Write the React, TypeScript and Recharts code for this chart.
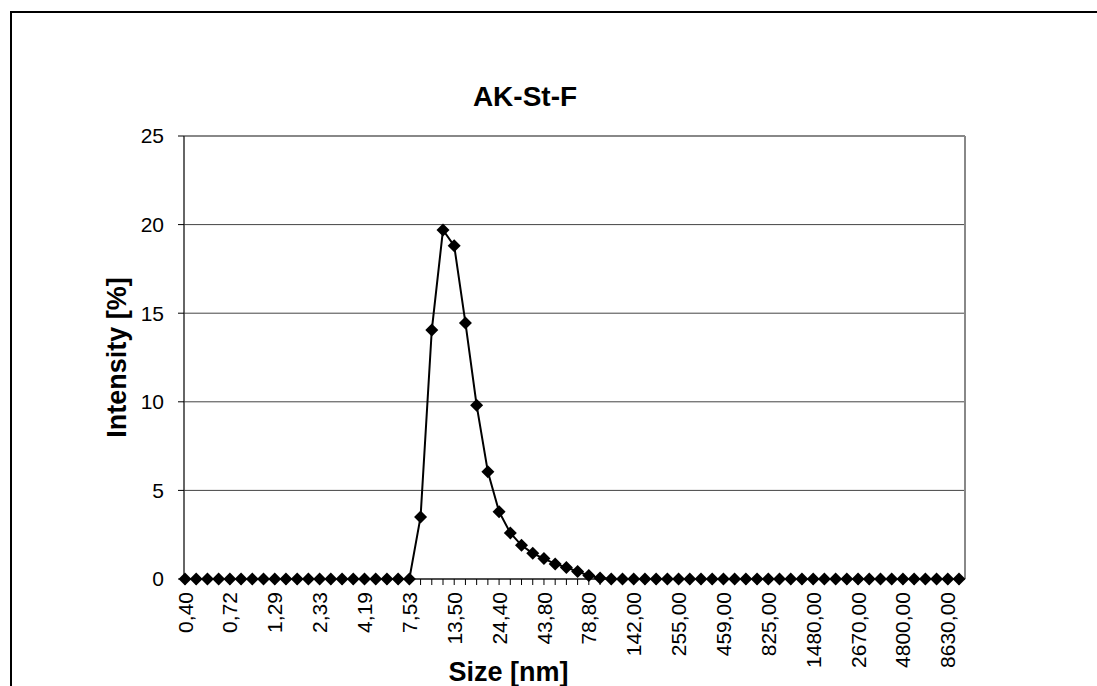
import { CartesianGrid, Label, Line, LineChart, ReferenceLine, XAxis, YAxis } from "recharts";

const font = "'Liberation Sans', Arial, sans-serif";

// size classes (nm), as printed on the axis
const sizeLabels = [
  "0,40", "0,46", "0,54", "0,62", "0,72", "0,83", "0,96", "1,12", "1,29", "1,50",
  "1,74", "2,01", "2,33", "2,70", "3,12", "3,62", "4,19", "4,85", "5,62", "6,50",
  "7,53", "8,72", "10,10", "11,70", "13,50", "15,70", "18,20", "21,00", "24,40", "28,20",
  "32,70", "37,80", "43,80", "50,70", "58,80", "68,10", "78,80", "91,30", "106,00", "122,00",
  "142,00", "164,00", "190,00", "220,00", "255,00", "295,00", "342,00", "396,00", "459,00", "531,00",
  "615,00", "712,00", "825,00", "955,00", "1110,00", "1280,00", "1480,00", "1720,00", "1990,00", "2300,00",
  "2670,00", "3090,00", "3580,00", "4150,00", "4800,00", "5560,00", "6440,00", "7460,00", "8630,00", "10000,00",
];

// intensity [%] per size class
const intensity = [
  0, 0, 0, 0, 0, 0, 0, 0, 0, 0,
  0, 0, 0, 0, 0, 0, 0, 0, 0, 0,
  0, 3.5, 14.05, 19.7, 18.8, 14.45, 9.8, 6.05, 3.8, 2.6,
  1.9, 1.45, 1.15, 0.85, 0.65, 0.42, 0.2, 0.05, 0, 0,
  0, 0, 0, 0, 0, 0, 0, 0, 0, 0,
  0, 0, 0, 0, 0, 0, 0, 0, 0, 0,
  0, 0, 0, 0, 0, 0, 0, 0, 0, 0,
];

const yTicks = [0, 5, 10, 15, 20, 25];

const data = sizeLabels.map((size, i) => ({ size, value: intensity[i] }));

const SizeTick = (props: any) => {
  const { x, y, payload, index } = props;
  if (index % 4 !== 0) return null;
  const ty = y + 5;
  return (
    <text
      x={x}
      y={ty}
      dy="0.36em"
      textAnchor="end"
      transform={`rotate(-90, ${x}, ${ty})`}
      fontSize={21}
      fontFamily={font}
      fill="#000"
    >
      {payload.value}
    </text>
  );
};

const renderDiamond = (props: any) => {
  const { cx, cy, index } = props;
  if (cx == null || cy == null) return <g key={index} />;
  const r = 6.5;
  return (
    <polygon
      key={index}
      points={`${cx},${cy - r} ${cx + r},${cy} ${cx},${cy + r} ${cx - r},${cy}`}
      fill="#000"
    />
  );
};

export default function App() {
  return (
    <div style={{ position: "absolute", left: 0, top: 0, width: 1097, height: 686, overflow: "hidden", background: "#fff" }}>
      <div
        style={{
          position: "absolute",
          left: 10,
          top: 11,
          width: 1200,
          height: 800,
          borderLeft: "2px solid #000",
          borderTop: "2px solid #000",
        }}
      />
      <div
        style={{
          position: "absolute",
          left: 0,
          top: 83,
          width: 1050,
          textAlign: "center",
          fontFamily: font,
          fontWeight: "bold",
          fontSize: 28,
          lineHeight: "28px",
        }}
      >
        AK-St-F
      </div>
      <LineChart
        width={1097}
        height={686}
        data={data}
        margin={{ top: 136, right: 122, left: 0, bottom: 0 }}
        style={{ position: "absolute", left: 0, top: 0 }}
      >
        <CartesianGrid vertical={false} stroke="#444" />
        <ReferenceLine y={25} stroke="#888" strokeWidth={2} />
        <XAxis
          dataKey="size"
          interval={0}
          tick={<SizeTick />}
          tickLine={{ stroke: "#000" }}
          axisLine={{ stroke: "#333", strokeWidth: 1.5 }}
          height={107}
          padding={{ left: 1, right: 6 }}
        >
          <Label
            value="Size [nm]"
            position="insideBottom"
            offset={5}
            dx={-66}
            style={{ fontSize: 27, fontWeight: "bold", fill: "#000", fontFamily: font }}
          />
        </XAxis>
        <YAxis
          domain={[0, 25]}
          ticks={yTicks}
          width={184}
          tickMargin={14}
          tick={{ fontSize: 21, fill: "#000", fontFamily: font }}
          tickLine={{ stroke: "#000" }}
          axisLine={{ stroke: "#333", strokeWidth: 1.5 }}
        >
          <Label
            value="Intensity [%]"
            angle={-90}
            position="center"
            dx={24}
            style={{ fontSize: 27, fontWeight: "bold", fill: "#000", fontFamily: font }}
          />
        </YAxis>
        <YAxis
          yAxisId="right"
          orientation="right"
          domain={[0, 25]}
          width={10}
          tick={false}
          tickLine={false}
          axisLine={{ stroke: "#888", strokeWidth: 2 }}
        />
        <Line
          type="linear"
          dataKey="value"
          stroke="#000"
          strokeWidth={2}
          dot={renderDiamond}
          activeDot={false}
          isAnimationActive={false}
        />
      </LineChart>
    </div>
  );
}
